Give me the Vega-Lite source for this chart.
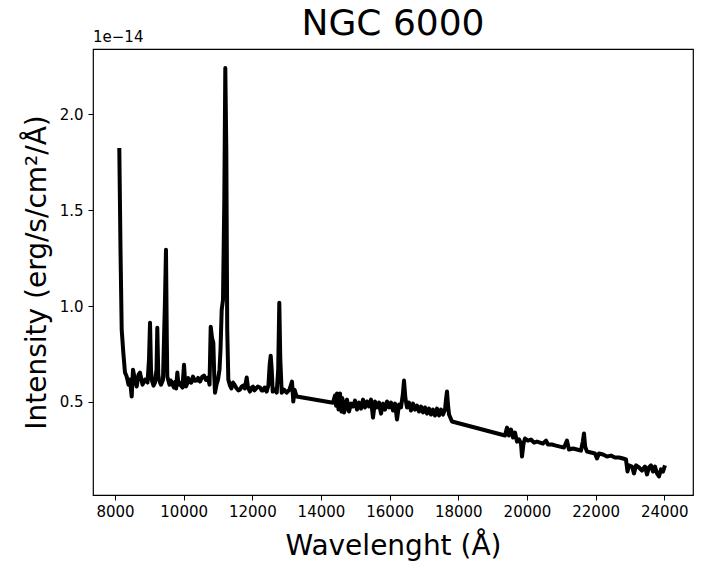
{
  "$schema": "https://vega.github.io/schema/vega-lite/v6.json",
  "width": 600,
  "height": 446,
  "autosize": {"type": "none"},
  "padding": {"left": 93, "top": 49, "right": 10, "bottom": 68},
  "background": "white",
  "config": {
    "font": "DejaVu Sans",
    "view": {"stroke": "black", "strokeWidth": 1.2},
    "axis": {"grid": false, "domain": false, "tickColor": "black", "tickSize": 5, "labelColor": "black", "titleColor": "black", "labelFont": "DejaVu Sans", "titleFont": "DejaVu Sans", "titleFontWeight": "normal"}
  },
  "title": {"text": "NGC 6000", "fontSize": 36, "fontWeight": "normal", "font": "DejaVu Sans", "color": "black", "anchor": "middle", "offset": -13},
  "datasets": {
    "spectrum": [
      {"wavelength": 8125, "intensity": 1.824},
      {"wavelength": 8160, "intensity": 1.293},
      {"wavelength": 8195, "intensity": 0.877},
      {"wavelength": 8242, "intensity": 0.757},
      {"wavelength": 8291, "intensity": 0.653},
      {"wavelength": 8341, "intensity": 0.632},
      {"wavelength": 8393, "intensity": 0.590},
      {"wavelength": 8437, "intensity": 0.616},
      {"wavelength": 8486, "intensity": 0.528},
      {"wavelength": 8524, "intensity": 0.668},
      {"wavelength": 8568, "intensity": 0.627},
      {"wavelength": 8632, "intensity": 0.580},
      {"wavelength": 8685, "intensity": 0.642},
      {"wavelength": 8728, "intensity": 0.653},
      {"wavelength": 8801, "intensity": 0.590},
      {"wavelength": 8874, "intensity": 0.616},
      {"wavelength": 8947, "intensity": 0.601},
      {"wavelength": 8990, "intensity": 0.720},
      {"wavelength": 9020, "intensity": 0.913},
      {"wavelength": 9049, "intensity": 0.668},
      {"wavelength": 9069, "intensity": 0.616},
      {"wavelength": 9122, "intensity": 0.585},
      {"wavelength": 9165, "intensity": 0.601},
      {"wavelength": 9209, "intensity": 0.668},
      {"wavelength": 9232, "intensity": 0.887},
      {"wavelength": 9261, "intensity": 0.642},
      {"wavelength": 9282, "intensity": 0.616},
      {"wavelength": 9340, "intensity": 0.590},
      {"wavelength": 9398, "intensity": 0.616},
      {"wavelength": 9456, "intensity": 1.033},
      {"wavelength": 9485, "intensity": 1.293},
      {"wavelength": 9509, "intensity": 0.825},
      {"wavelength": 9523, "intensity": 0.632},
      {"wavelength": 9588, "intensity": 0.590},
      {"wavelength": 9620, "intensity": 0.612},
      {"wavelength": 9652, "intensity": 0.601},
      {"wavelength": 9690, "intensity": 0.585},
      {"wavelength": 9719, "intensity": 0.575},
      {"wavelength": 9750, "intensity": 0.605},
      {"wavelength": 9780, "intensity": 0.570},
      {"wavelength": 9815, "intensity": 0.653},
      {"wavelength": 9850, "intensity": 0.590},
      {"wavelength": 9893, "intensity": 0.601},
      {"wavelength": 9920, "intensity": 0.585},
      {"wavelength": 9966, "intensity": 0.575},
      {"wavelength": 10010, "intensity": 0.694},
      {"wavelength": 10039, "intensity": 0.616},
      {"wavelength": 10068, "intensity": 0.580},
      {"wavelength": 10100, "intensity": 0.595},
      {"wavelength": 10130, "intensity": 0.625},
      {"wavelength": 10170, "intensity": 0.606},
      {"wavelength": 10220, "intensity": 0.600},
      {"wavelength": 10272, "intensity": 0.632},
      {"wavelength": 10320, "intensity": 0.610},
      {"wavelength": 10374, "intensity": 0.611},
      {"wavelength": 10420, "intensity": 0.625},
      {"wavelength": 10476, "intensity": 0.606},
      {"wavelength": 10540, "intensity": 0.630},
      {"wavelength": 10593, "intensity": 0.637},
      {"wavelength": 10650, "intensity": 0.615},
      {"wavelength": 10709, "intensity": 0.627},
      {"wavelength": 10753, "intensity": 0.590},
      {"wavelength": 10788, "intensity": 0.892},
      {"wavelength": 10826, "intensity": 0.835},
      {"wavelength": 10864, "intensity": 0.809},
      {"wavelength": 10890, "intensity": 0.642},
      {"wavelength": 10913, "intensity": 0.548},
      {"wavelength": 10957, "intensity": 0.590},
      {"wavelength": 11000, "intensity": 0.616},
      {"wavelength": 11044, "intensity": 0.668},
      {"wavelength": 11073, "intensity": 0.772},
      {"wavelength": 11108, "intensity": 0.981},
      {"wavelength": 11146, "intensity": 1.033},
      {"wavelength": 11184, "intensity": 1.554},
      {"wavelength": 11213, "intensity": 2.241},
      {"wavelength": 11242, "intensity": 1.814},
      {"wavelength": 11269, "intensity": 0.877},
      {"wavelength": 11301, "intensity": 0.616},
      {"wavelength": 11350, "intensity": 0.585},
      {"wavelength": 11390, "intensity": 0.570},
      {"wavelength": 11437, "intensity": 0.601},
      {"wavelength": 11480, "intensity": 0.590},
      {"wavelength": 11525, "intensity": 0.575},
      {"wavelength": 11590, "intensity": 0.560},
      {"wavelength": 11641, "intensity": 0.564},
      {"wavelength": 11690, "intensity": 0.580},
      {"wavelength": 11729, "intensity": 0.585},
      {"wavelength": 11780, "intensity": 0.570},
      {"wavelength": 11836, "intensity": 0.627},
      {"wavelength": 11874, "intensity": 0.575},
      {"wavelength": 11933, "intensity": 0.554},
      {"wavelength": 11980, "intensity": 0.575},
      {"wavelength": 12020, "intensity": 0.580},
      {"wavelength": 12060, "intensity": 0.560},
      {"wavelength": 12107, "intensity": 0.569},
      {"wavelength": 12160, "intensity": 0.580},
      {"wavelength": 12224, "intensity": 0.575},
      {"wavelength": 12270, "intensity": 0.560},
      {"wavelength": 12311, "intensity": 0.559},
      {"wavelength": 12360, "intensity": 0.575},
      {"wavelength": 12419, "intensity": 0.554},
      {"wavelength": 12471, "intensity": 0.590},
      {"wavelength": 12506, "intensity": 0.694},
      {"wavelength": 12535, "intensity": 0.741},
      {"wavelength": 12565, "intensity": 0.668},
      {"wavelength": 12594, "intensity": 0.554},
      {"wavelength": 12652, "intensity": 0.564},
      {"wavelength": 12710, "intensity": 0.548},
      {"wavelength": 12754, "intensity": 0.668},
      {"wavelength": 12786, "intensity": 1.017},
      {"wavelength": 12815, "intensity": 0.720},
      {"wavelength": 12856, "intensity": 0.548},
      {"wavelength": 12923, "intensity": 0.564},
      {"wavelength": 13001, "intensity": 0.548},
      {"wavelength": 13083, "intensity": 0.564},
      {"wavelength": 13156, "intensity": 0.606},
      {"wavelength": 13194, "intensity": 0.502},
      {"wavelength": 13229, "intensity": 0.564},
      {"wavelength": 13293, "intensity": 0.528},
      {"wavelength": 14350, "intensity": 0.496},
      {"wavelength": 14409, "intensity": 0.533},
      {"wavelength": 14440, "intensity": 0.480},
      {"wavelength": 14467, "intensity": 0.544},
      {"wavelength": 14490, "intensity": 0.500},
      {"wavelength": 14511, "intensity": 0.460},
      {"wavelength": 14554, "intensity": 0.544},
      {"wavelength": 14598, "intensity": 0.450},
      {"wavelength": 14620, "intensity": 0.520},
      {"wavelength": 14642, "intensity": 0.502},
      {"wavelength": 14670, "intensity": 0.445},
      {"wavelength": 14700, "intensity": 0.460},
      {"wavelength": 14758, "intensity": 0.512},
      {"wavelength": 14817, "intensity": 0.450},
      {"wavelength": 14875, "intensity": 0.491},
      {"wavelength": 14933, "intensity": 0.476},
      {"wavelength": 14991, "intensity": 0.507},
      {"wavelength": 15049, "intensity": 0.460},
      {"wavelength": 15108, "intensity": 0.496},
      {"wavelength": 15166, "intensity": 0.465},
      {"wavelength": 15224, "intensity": 0.512},
      {"wavelength": 15283, "intensity": 0.471},
      {"wavelength": 15341, "intensity": 0.502},
      {"wavelength": 15399, "intensity": 0.476},
      {"wavelength": 15457, "intensity": 0.512},
      {"wavelength": 15515, "intensity": 0.418},
      {"wavelength": 15574, "intensity": 0.502},
      {"wavelength": 15632, "intensity": 0.471},
      {"wavelength": 15690, "intensity": 0.496},
      {"wavelength": 15749, "intensity": 0.439},
      {"wavelength": 15807, "intensity": 0.491},
      {"wavelength": 15865, "intensity": 0.460},
      {"wavelength": 15923, "intensity": 0.502},
      {"wavelength": 15982, "intensity": 0.471},
      {"wavelength": 16040, "intensity": 0.496},
      {"wavelength": 16098, "intensity": 0.455},
      {"wavelength": 16157, "intensity": 0.491},
      {"wavelength": 16215, "intensity": 0.408},
      {"wavelength": 16273, "intensity": 0.486},
      {"wavelength": 16331, "intensity": 0.471},
      {"wavelength": 16384, "intensity": 0.538},
      {"wavelength": 16419, "intensity": 0.611},
      {"wavelength": 16457, "intensity": 0.522},
      {"wavelength": 16506, "intensity": 0.471},
      {"wavelength": 16564, "intensity": 0.496},
      {"wavelength": 16622, "intensity": 0.455},
      {"wavelength": 16681, "intensity": 0.491},
      {"wavelength": 16739, "intensity": 0.460},
      {"wavelength": 16797, "intensity": 0.481},
      {"wavelength": 16856, "intensity": 0.450},
      {"wavelength": 16914, "intensity": 0.476},
      {"wavelength": 16972, "intensity": 0.445},
      {"wavelength": 17030, "intensity": 0.471},
      {"wavelength": 17089, "intensity": 0.439},
      {"wavelength": 17147, "intensity": 0.465},
      {"wavelength": 17205, "intensity": 0.434},
      {"wavelength": 17263, "intensity": 0.460},
      {"wavelength": 17322, "intensity": 0.429},
      {"wavelength": 17380, "intensity": 0.465},
      {"wavelength": 17438, "intensity": 0.429},
      {"wavelength": 17497, "intensity": 0.460},
      {"wavelength": 17555, "intensity": 0.434},
      {"wavelength": 17613, "intensity": 0.460},
      {"wavelength": 17642, "intensity": 0.512},
      {"wavelength": 17671, "intensity": 0.554},
      {"wavelength": 17700, "intensity": 0.486},
      {"wavelength": 17730, "intensity": 0.434},
      {"wavelength": 17817, "intensity": 0.398},
      {"wavelength": 19361, "intensity": 0.325},
      {"wavelength": 19419, "intensity": 0.366},
      {"wavelength": 19477, "intensity": 0.325},
      {"wavelength": 19536, "intensity": 0.356},
      {"wavelength": 19594, "intensity": 0.314},
      {"wavelength": 19652, "intensity": 0.340},
      {"wavelength": 19710, "intensity": 0.293},
      {"wavelength": 19769, "intensity": 0.304},
      {"wavelength": 19827, "intensity": 0.283},
      {"wavelength": 19856, "intensity": 0.215},
      {"wavelength": 19900, "intensity": 0.283},
      {"wavelength": 19944, "intensity": 0.309},
      {"wavelength": 20031, "intensity": 0.298},
      {"wavelength": 20118, "intensity": 0.304},
      {"wavelength": 20206, "intensity": 0.288},
      {"wavelength": 20293, "intensity": 0.293},
      {"wavelength": 20381, "intensity": 0.288},
      {"wavelength": 20468, "intensity": 0.283},
      {"wavelength": 20555, "intensity": 0.298},
      {"wavelength": 20613, "intensity": 0.278},
      {"wavelength": 20730, "intensity": 0.278},
      {"wavelength": 20846, "intensity": 0.272},
      {"wavelength": 20963, "intensity": 0.267},
      {"wavelength": 21079, "intensity": 0.262},
      {"wavelength": 21166, "intensity": 0.298},
      {"wavelength": 21225, "intensity": 0.252},
      {"wavelength": 21341, "intensity": 0.257},
      {"wavelength": 21458, "intensity": 0.252},
      {"wavelength": 21574, "intensity": 0.246},
      {"wavelength": 21627, "intensity": 0.293},
      {"wavelength": 21661, "intensity": 0.335},
      {"wavelength": 21696, "intensity": 0.267},
      {"wavelength": 21749, "intensity": 0.241},
      {"wavelength": 21866, "intensity": 0.236},
      {"wavelength": 21982, "intensity": 0.231},
      {"wavelength": 22040, "intensity": 0.205},
      {"wavelength": 22099, "intensity": 0.231},
      {"wavelength": 22215, "intensity": 0.226},
      {"wavelength": 22332, "intensity": 0.215},
      {"wavelength": 22448, "intensity": 0.220},
      {"wavelength": 22565, "intensity": 0.210},
      {"wavelength": 22681, "intensity": 0.210},
      {"wavelength": 22798, "intensity": 0.205},
      {"wavelength": 22885, "intensity": 0.200},
      {"wavelength": 22929, "intensity": 0.137},
      {"wavelength": 22973, "intensity": 0.169},
      {"wavelength": 23060, "intensity": 0.163},
      {"wavelength": 23118, "intensity": 0.127},
      {"wavelength": 23177, "intensity": 0.169},
      {"wavelength": 23264, "intensity": 0.158},
      {"wavelength": 23351, "intensity": 0.142},
      {"wavelength": 23439, "intensity": 0.163},
      {"wavelength": 23497, "intensity": 0.122},
      {"wavelength": 23555, "intensity": 0.158},
      {"wavelength": 23613, "intensity": 0.169},
      {"wavelength": 23672, "intensity": 0.137},
      {"wavelength": 23730, "intensity": 0.163},
      {"wavelength": 23788, "intensity": 0.127},
      {"wavelength": 23846, "intensity": 0.111},
      {"wavelength": 23905, "intensity": 0.148},
      {"wavelength": 23963, "intensity": 0.137},
      {"wavelength": 24021, "intensity": 0.169}
    ],
    "offset": [{"label": "1e−14", "wavelength": 7359, "intensity": 2.34}]
  },
  "layer": [
    {
      "data": {"name": "spectrum"},
      "mark": {"type": "line", "color": "black", "strokeWidth": 4, "strokeJoin": "round", "clip": true},
      "encoding": {
        "x": {
          "field": "wavelength", "type": "quantitative",
          "scale": {"domain": [7359, 24837], "nice": false, "zero": false},
          "axis": {"values": [8000, 10000, 12000, 14000, 16000, 18000, 20000, 22000, 24000], "format": "d", "labelFontSize": 15, "labelPadding": 4, "title": "Wavelenght (Å)", "titleFontSize": 28, "titlePadding": 13}
        },
        "y": {
          "field": "intensity", "type": "quantitative",
          "scale": {"domain": [0.0146, 2.34], "nice": false, "zero": false},
          "axis": {"values": [0.5, 1.0, 1.5, 2.0], "format": ".1f", "labelFontSize": 15, "labelPadding": 5, "title": "Intensity (erg/s/cm²/Å)", "titleFontSize": 28, "titlePadding": 8}
        }
      }
    },
    {
      "data": {"name": "offset"},
      "mark": {"type": "text", "align": "left", "baseline": "bottom", "dy": -4, "fontSize": 15, "color": "black", "font": "DejaVu Sans"},
      "encoding": {
        "x": {"field": "wavelength", "type": "quantitative"},
        "y": {"field": "intensity", "type": "quantitative"},
        "text": {"field": "label"}
      }
    }
  ]
}
